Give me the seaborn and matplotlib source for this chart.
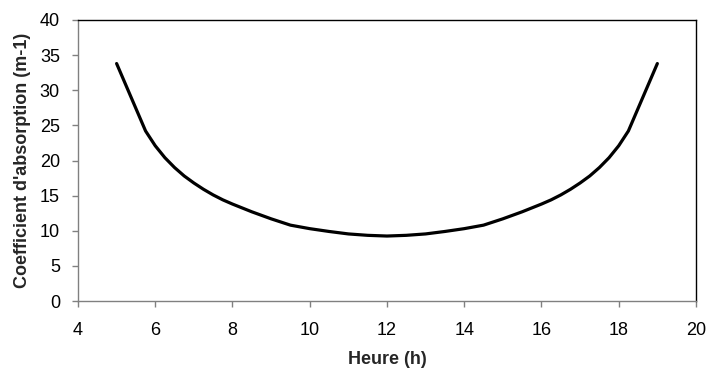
import matplotlib
matplotlib.use("Agg")
import matplotlib.pyplot as plt
import seaborn as sns
import pandas as pd

# Heure (h) et coefficient d'absorption (m-1)
heures = [5, 5.25, 5.5, 5.75, 6, 6.25, 6.5, 6.75, 7, 7.25, 7.5, 7.75, 8, 8.5, 9, 9.5,
          10, 10.5, 11, 11.5, 12, 12.5, 13, 13.5, 14, 14.5, 15, 15.5, 16, 16.25, 16.5,
          16.75, 17, 17.25, 17.5, 17.75, 18, 18.25, 18.5, 18.75, 19]
coefficient = [33.8, 30.6, 27.4, 24.2, 22.1, 20.4, 19.0, 17.8, 16.8, 15.9, 15.1, 14.4,
               13.8, 12.7, 11.7, 10.8, 10.3, 9.9, 9.55, 9.35, 9.25, 9.35, 9.55, 9.9,
               10.3, 10.8, 11.7, 12.7, 13.8, 14.4, 15.1, 15.9, 16.8, 17.8, 19.0, 20.4,
               22.1, 24.2, 27.4, 30.6, 33.8]

x_ticks = [4, 6, 8, 10, 12, 14, 16, 18, 20]
y_ticks = [0, 5, 10, 15, 20, 25, 30, 35, 40]

df = pd.DataFrame({"Heure": heures, "Coef": coefficient})

sns.set_style("white")
plt.rcParams['font.family'] = ['Liberation Sans', 'DejaVu Sans']

fig = plt.figure(figsize=(7.07, 3.68), dpi=100)
ax = fig.add_axes([0.1103, 0.182, 0.8741, 0.7637])

sns.lineplot(data=df, x="Heure", y="Coef", color="black", linewidth=2.3, ax=ax)

ax.set_xlim(4, 20)
ax.set_ylim(0, 40)
ax.set_xticks(x_ticks)
ax.set_yticks(y_ticks)
ax.tick_params(axis="both", direction="out", length=4, width=1, color="#808080",
               labelsize=13, labelcolor="black", bottom=True, left=True)
ax.tick_params(axis="x", pad=11)
ax.tick_params(axis="y", pad=9)

for side in ["left", "bottom"]:
    ax.spines[side].set_color("#808080")
    ax.spines[side].set_linewidth(1)
for side in ["top", "right"]:
    ax.spines[side].set_color("black")
    ax.spines[side].set_linewidth(1)

ax.set_xlabel("Heure (h)", fontsize=13, fontweight="bold", labelpad=9)
ax.set_ylabel("Coefficient d'absorption (m-1)", fontsize=13, fontweight="bold", labelpad=6)

fig.savefig("out.png", dpi=100)
